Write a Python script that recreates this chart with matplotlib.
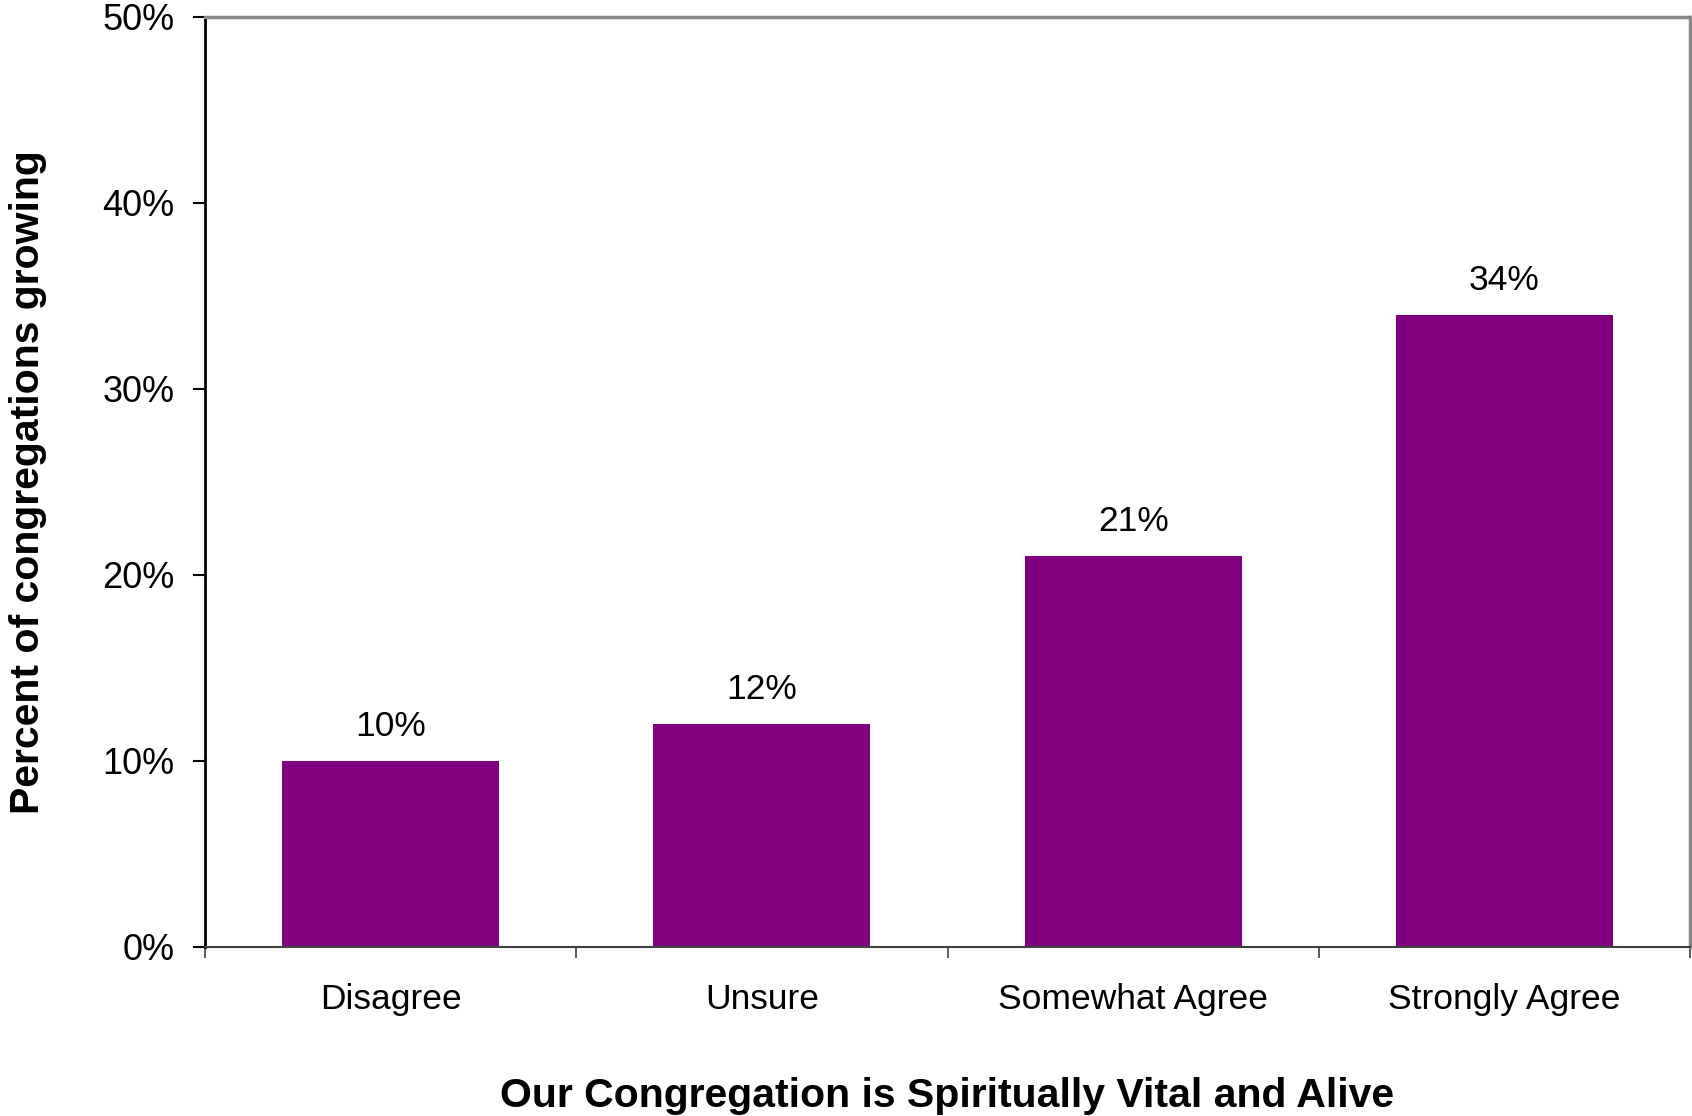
import matplotlib
matplotlib.use("Agg")
import matplotlib.pyplot as plt
from matplotlib.ticker import FixedLocator, PercentFormatter

categories = ["Disagree", "Unsure", "Somewhat Agree", "Strongly Agree"]
values = [10, 12, 21, 34]
y_ticks = [0, 10, 20, 30, 40, 50]
x_title = "Our Congregation is Spiritually Vital and Alive"
y_title = "Percent of congregations growing"

plt.rcParams["font.family"] = ["Liberation Sans", "DejaVu Sans"]

fig = plt.figure(figsize=(16.92, 11.16), dpi=100)
ax = fig.add_axes([205/1692, 1-947/1116, (1690-205)/1692, (947-17)/1116])

x = list(range(len(categories)))
bars = ax.bar(x, values, width=0.585, color="#800080", zorder=2)
for b, v in zip(bars, values):
    ax.annotate(f"{v}%", (b.get_x() + b.get_width()/2, b.get_height()),
                xytext=(0, 13), textcoords="offset points",
                ha="center", va="bottom", fontsize=25.5)

ax.set_xlim(-0.5, len(categories) - 0.5)
ax.set_ylim(0, 50)
ax.set_yticks(y_ticks)
ax.yaxis.set_major_formatter(PercentFormatter(decimals=0))
ax.set_xticks(x)
ax.set_xticklabels(categories)
ax.xaxis.set_minor_locator(FixedLocator([i - 0.5 for i in range(len(categories) + 1)]))

ax.tick_params(axis="y", length=9, width=1.5, pad=13, labelsize=26, color="black")
ax.tick_params(axis="x", which="major", length=0, pad=26, labelsize=25.5)
ax.tick_params(axis="x", which="minor", length=8, width=1.2, color="#404040")

for s in ["top", "right"]:
    ax.spines[s].set_color("#888888")
    ax.spines[s].set_linewidth(2.5)
ax.spines["left"].set_color("black")
ax.spines["left"].set_linewidth(2)
ax.spines["bottom"].set_color("#404040")
ax.spines["bottom"].set_linewidth(1.5)

ax.set_xlabel(x_title, fontsize=29.5, fontweight="bold", labelpad=44)
ax.set_ylabel(y_title, fontsize=29.5, fontweight="bold", labelpad=40)

fig.savefig("out.png", dpi=100)
